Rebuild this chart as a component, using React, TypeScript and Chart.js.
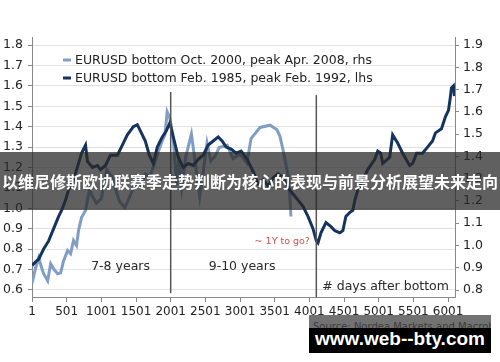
import React, { useEffect, useRef } from "react";
import { Chart, registerables } from "chart.js";

Chart.register(...registerables);

// ---------- DATA ----------
// Days after bottom (x) and EURUSD level for each series
const lightDays = [1, 54, 97, 140, 169, 227, 270, 313, 370, 414, 457, 514, 557, 600, 643, 672, 715, 773, 830, 873, 930, 1000, 1080, 1150, 1260, 1340, 1440, 1500, 1570, 1640, 1700, 1760, 1820, 1880, 1920, 1950, 1990, 2040, 2090, 2120, 2160, 2220, 2300, 2360, 2420, 2470, 2525, 2580, 2640, 2700, 2815, 2900, 3000, 3100, 3160, 3290, 3433, 3534, 3577, 3620, 3678, 3705, 3720, 3735];
const lightValues = [0.83, 0.9, 0.945, 0.9, 0.873, 0.841, 0.918, 0.895, 0.873, 0.877, 0.932, 0.977, 0.963, 1.022, 1.0, 1.067, 1.125, 1.157, 1.25, 1.22, 1.19, 1.21, 1.34, 1.31, 1.2, 1.17, 1.24, 1.28, 1.27, 1.32, 1.31, 1.36, 1.42, 1.47, 1.5, 1.6, 1.57, 1.47, 1.27, 1.4, 1.26, 1.4, 1.5, 1.36, 1.22, 1.33, 1.46, 1.38, 1.4, 1.44, 1.45, 1.39, 1.41, 1.37, 1.48, 1.53, 1.54, 1.52, 1.49, 1.43, 1.34, 1.3, 1.22, 1.13];

const darkDays = [1, 60, 97, 169, 241, 313, 385, 428, 485, 528, 600, 672, 715, 773, 801, 873, 945, 988, 1060, 1132, 1232, 1304, 1376, 1463, 1520, 1578, 1635, 1693, 1750, 1808, 1880, 1938, 1990, 2053, 2110, 2182, 2254, 2326, 2398, 2470, 2542, 2614, 2686, 2743, 2801, 2873, 2945, 3017, 3103, 3190, 3262, 3334, 3406, 3478, 3550, 3621, 3693, 3765, 3837, 3909, 3981, 4053, 4101, 4125, 4168, 4240, 4312, 4369, 4441, 4484, 4527, 4585, 4628, 4657, 4700, 4743, 4843, 4944, 4987, 5030, 5059, 5159, 5202, 5274, 5346, 5446, 5490, 5547, 5633, 5705, 5777, 5820, 5906, 5964, 6007, 6036, 6050, 6079, 6093];
const darkValues = [0.72, 0.74, 0.75, 0.8, 0.84, 0.9, 0.96, 0.99, 1.04, 1.09, 1.14, 1.22, 1.27, 1.31, 1.23, 1.2, 1.21, 1.19, 1.21, 1.26, 1.26, 1.31, 1.36, 1.4, 1.41, 1.37, 1.33, 1.26, 1.22, 1.3, 1.35, 1.38, 1.42, 1.33, 1.25, 1.2, 1.22, 1.21, 1.24, 1.26, 1.31, 1.33, 1.35, 1.33, 1.3, 1.29, 1.27, 1.28, 1.24, 1.18, 1.12, 1.14, 1.11, 1.15, 1.17, 1.15, 1.1, 1.07, 1.04, 1.01, 0.96, 0.9, 0.84, 0.83, 0.88, 0.93, 0.91, 0.89, 0.88, 0.89, 0.96, 0.98, 0.99, 1.04, 1.09, 1.12, 1.19, 1.24, 1.28, 1.27, 1.22, 1.25, 1.36, 1.32, 1.27, 1.21, 1.22, 1.27, 1.27, 1.3, 1.33, 1.37, 1.39, 1.45, 1.48, 1.55, 1.59, 1.6, 1.55];

const xTicks = [1, 501, 1001, 1501, 2001, 2501, 3001, 3501, 4001, 4501, 5001, 5501, 6001];
const leftTicks = [0.6, 0.7, 0.8, 0.9, 1.0, 1.1, 1.2, 1.3, 1.4, 1.5, 1.6, 1.7, 1.8];
const rightTicks = [0.8, 0.9, 1.0, 1.1, 1.2, 1.3, 1.4, 1.5, 1.6, 1.7, 1.8, 1.9];

const markerDays = [2001, 4101];
const markerLow = [0.584, 0.565];
const markerHigh = [1.57, 1.555];

const legendLabels = [
  "EURUSD bottom Oct. 2000, peak Apr. 2008, rhs",
  "EURUSD bottom Feb. 1985, peak Feb. 1992, lhs",
];
const annotations = [
  { text: "7-8 years", day: 1278, value: 0.712, color: "#2a2a2a", size: 12.5 },
  { text: "9-10 years", day: 3030, value: 0.712, color: "#2a2a2a", size: 12.5 },
  { text: "~ 1Y to go?", day: 3610, value: 0.839, color: "#c8504d", size: 9.5 },
  { text: "# days after bottom", day: 5100, value: 0.614, color: "#2a2a2a", size: 12.5 },
];
const bannerText = "以维尼修斯欧协联赛季走势判断为核心的表现与前景分析展望未来走向";
const sourceText = "Source: Nordea Markets and Macrobond";
const siteText = "www.web--bty.com";

const LIGHT = "#7f9dc5";
const DARK = "#15335f";
const FONT = '"DejaVu Sans", Verdana, sans-serif';

const textPlugin = {
  id: "textPlugin",
  afterDatasetsDraw(chart: any) {
    const ctx = chart.ctx;
    const x = chart.scales.x;
    const yL = chart.scales.yL;
    ctx.save();
    legendLabels.forEach((lab, i) => {
      const y = 60 + i * 18;
      ctx.strokeStyle = i === 0 ? LIGHT : DARK;
      ctx.lineWidth = 3;
      ctx.beginPath();
      ctx.moveTo(63, y);
      ctx.lineTo(71, y);
      ctx.stroke();
      ctx.fillStyle = "#222";
      ctx.font = `12.5px ${FONT}`;
      ctx.textBaseline = "middle";
      ctx.textAlign = "left";
      ctx.fillText(lab, 75, y + 0.5);
    });
    annotations.forEach((a) => {
      ctx.fillStyle = a.color;
      ctx.font = `${a.size}px ${FONT}`;
      ctx.textAlign = "center";
      ctx.textBaseline = "middle";
      ctx.fillText(a.text, x.getPixelForValue(a.day), yL.getPixelForValue(a.value));
    });
    ctx.restore();
  },
};

export default function App() {
  const ref = useRef<HTMLCanvasElement | null>(null);
  useEffect(() => {
    if (!ref.current) return;
    const markerSets = markerDays.map((d, i) => ({
      data: [
        { x: d, y: markerLow[i] },
        { x: d, y: markerHigh[i] },
      ],
      borderColor: "#555",
      borderWidth: 1.5,
      pointRadius: 0,
      yAxisID: "yL",
      order: 0,
    }));
    const chart = new Chart(ref.current, {
      type: "line",
      data: {
        datasets: [
          {
            label: legendLabels[0],
            data: lightDays.map((d, i) => ({ x: d, y: lightValues[i] })),
            borderColor: LIGHT,
            borderWidth: 3,
            pointRadius: 0,
            yAxisID: "yR",
            order: 2,
          },
          {
            label: legendLabels[1],
            data: darkDays.map((d, i) => ({ x: d, y: darkValues[i] })),
            borderColor: DARK,
            borderWidth: 3,
            pointRadius: 0,
            yAxisID: "yL",
            order: 1,
          },
          ...markerSets,
        ] as any,
      },
      options: {
        animation: false,
        responsive: false,
        layout: { padding: { top: 37, left: 0, right: 0, bottom: 0 } },
        plugins: { legend: { display: false }, tooltip: { enabled: false } },
        scales: {
          x: {
            type: "linear",
            min: 1,
            max: 6101,
            afterBuildTicks: (s: any) => {
              s.ticks = xTicks.map((v) => ({ value: v }));
            },
            afterFit: (s: any) => {
              s.height = 65;
            },
            ticks: {
              autoSkip: false,
              maxRotation: 0,
              padding: 3,
              color: "#222",
              font: { family: FONT, size: 12 },
              callback: (v: any) => String(v),
            },
            grid: { drawOnChartArea: false, tickLength: 5, tickColor: "#888" },
            border: { color: "#888" },
          },
          yL: {
            type: "linear",
            position: "left",
            min: 0.565,
            max: 1.84,
            afterBuildTicks: (s: any) => {
              s.ticks = leftTicks.map((v) => ({ value: v }));
            },
            afterFit: (s: any) => {
              s.width = 32;
            },
            ticks: {
              padding: 5,
              color: "#222",
              font: { family: FONT, size: 12.5 },
              callback: (v: any) => Number(v).toFixed(1),
            },
            grid: { color: "#e2e2e2", tickLength: 4, tickColor: "#888" },
            border: { color: "#888" },
          },
          yR: {
            type: "linear",
            position: "right",
            min: 0.7686,
            max: 1.936,
            afterBuildTicks: (s: any) => {
              s.ticks = rightTicks.map((v) => ({ value: v }));
            },
            afterFit: (s: any) => {
              s.width = 45;
            },
            ticks: {
              padding: 4,
              color: "#222",
              font: { family: FONT, size: 12.5 },
              callback: (v: any) => Number(v).toFixed(1),
            },
            grid: { drawOnChartArea: false, tickLength: 4, tickColor: "#888" },
            border: { color: "#888" },
          },
        },
      } as any,
      plugins: [textPlugin],
    });
    return () => chart.destroy();
  }, []);

  return (
    <div style={{ position: "fixed", left: 0, top: 0, width: 500, height: 362, background: "#fff", overflow: "hidden" }}>
      <canvas ref={ref} width={500} height={362} style={{ display: "block", width: 500, height: 362 }} />
      <div
        style={{
          position: "absolute",
          left: 0,
          top: 152,
          width: 500,
          height: 58,
          background: "rgba(40,40,40,0.74)",
          color: "#fff",
          fontFamily: '"Noto Sans CJK SC", sans-serif',
          fontWeight: 700,
          fontSize: 16,
          display: "flex",
          alignItems: "center",
          justifyContent: "center",
          whiteSpace: "nowrap",
        }}
      >
        {bannerText}
      </div>
      <div
        style={{
          position: "absolute",
          left: 309,
          top: 315,
          width: 182,
          height: 13,
          background: "#727272",
          overflow: "hidden",
        }}
      >
        <div
          style={{
            position: "absolute",
            left: 4,
            top: 6,
            fontFamily: FONT,
            fontSize: 10,
            color: "#3c3c3c",
            whiteSpace: "nowrap",
            lineHeight: "12px",
          }}
        >
          {sourceText}
        </div>
      </div>
      <div
        style={{
          position: "absolute",
          left: 309,
          top: 328,
          width: 182,
          height: 25,
          background: "#000",
          color: "#fff",
          fontFamily: '"Liberation Sans", Arial, sans-serif',
          fontWeight: 700,
          fontSize: 19,
          display: "flex",
          alignItems: "center",
          justifyContent: "center",
          whiteSpace: "nowrap",
          paddingBottom: 3,
          boxSizing: "border-box",
        }}
      >
        {siteText}
      </div>
    </div>
  );
}
